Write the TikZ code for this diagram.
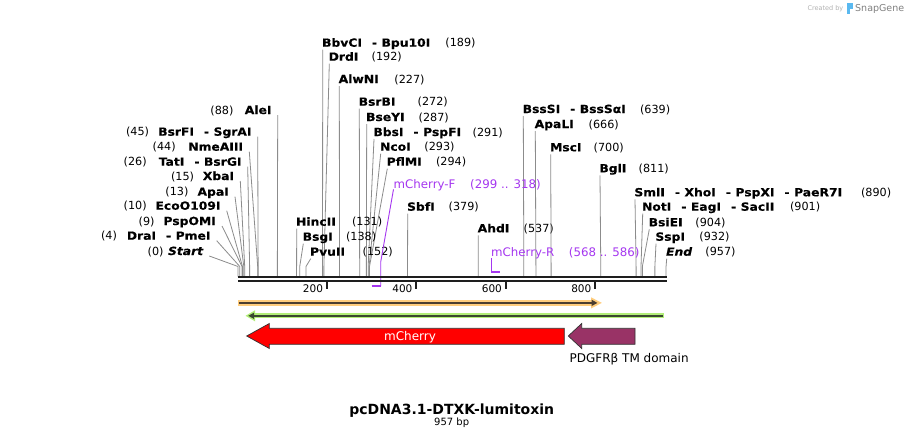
\documentclass[tikz,border=0pt]{standalone}
\usepackage{fontspec}
\setmainfont{DejaVu Sans}
\newfontfamily\enzf[FakeStretch=1.1, BoldFeatures={FakeBold=0.35}, BoldItalicFeatures={FakeBold=0.35}]{DejaVu Sans}
\usetikzlibrary{arrows.meta}
\definecolor{lblgray}{RGB}{140,140,140}
\definecolor{seqblack}{RGB}{30,30,30}
\definecolor{primerpurple}{RGB}{165,55,240}
\definecolor{orangeband}{RGB}{255,205,125}
\definecolor{orangeline}{RGB}{75,62,48}
\definecolor{greenband}{RGB}{178,238,120}
\definecolor{greenline}{RGB}{58,72,48}
\definecolor{cherryred}{RGB}{255,0,0}
\definecolor{pdgfrcol}{RGB}{153,51,102}
\definecolor{featedge}{RGB}{50,50,50}
\definecolor{snapblue}{RGB}{90,185,240}
\newcommand\dsh{\hspace{10pt}-\hspace{4.5pt}}
\tikzset{
  enzname/.style={inner sep=0pt, font=\enzf\fontsize{11.2}{13}\selectfont\bfseries},
  enznum/.style={inner sep=0pt, font=\fontsize{11.2}{13}\selectfont},
  siteline/.style={draw=lblgray, line width=0.8pt},
  primertext/.style={inner sep=0pt, text=primerpurple, font=\fontsize{11.8}{13}\selectfont},
  primerline/.style={draw=primerpurple, line width=0.9pt},
  primerbar/.style={draw=primerpurple, line width=2pt},
  seqline/.style={draw=seqblack, line width=2.3pt},
  tickmark/.style={draw=seqblack, line width=2pt},
  ticklabel/.style={inner sep=0pt, font=\fontsize{10.5}{12}\selectfont},
  featarrow/.style={draw=featedge, line width=0.7pt},
}
\begin{document}
\begin{tikzpicture}[x=1pt,y=-1pt]
\useasboundingbox[fill=white] (0,0) rectangle (905,439);

% left-hand enzyme labels (right aligned)
\foreach \i/\ex/\cy/\nm/\nx/\nu in {
  1/271.7/110/AleI/211/88,
  2/251.7/131.7/BsrFI\dsh SgrAI/126.7/45,
  3/243.3/146.7/NmeAIII/153.3/44,
  4/241.7/161.7/TatI\dsh BsrGI/124.3/26,
  5/234.3/176/XbaI/171.7/15,
  6/229/191.7/ApaI/166/13,
  7/220.7/205.7/EcoO109I/124.3/10,
  8/216/221/PspOMI/139.3/9,
  9/210.7/235.7/DraI\dsh PmeI/101.7/4,
  10/203.3/251/{\itshape Start}/148.3/0}{
  \node[enzname, anchor=base east] (L\i) at (\ex,\cy+4) {\nm};
  \node[enznum, anchor=base west] (LN\i) at (\nx-0.8,\cy+4) {(\nu)};
  \coordinate (LS\i) at ({238+0.4473*\nu},276.5);
  \draw[siteline] ([shift={(6,1)}]L\i.base east) -- ([shift={(0,-10)}]LS\i) -- (LS\i);
}

% upper / right enzyme labels (left aligned)
\foreach \i/\ex/\cy/\nm/\nx/\nu in {
  11/322.7/42.7/BbvCI\dsh Bpu10I/446/189,
  12/329.3/56.7/DrdI/372.3/192,
  13/339.3/79/AlwNI/395/227,
  14/359.3/101.7/BsrBI/418.3/272,
  15/366.7/117/BseYI/419.3/287,
  16/374/132/BbsI\dsh PspFI/473.3/291,
  17/380.7/146.7/NcoI/425/293,
  18/387.3/161.7/PflMI/436.7/294,
  19/407.7/206.7/SbfI/449.3/379,
  20/296.7/221.7/HincII/352.7/131,
  21/303.3/236.7/BsgI/346.7/138,
  22/310.7/251.7/PvuII/363.3/152,
  23/478.3/228.3/AhdI/524.3/537,
  24/523.3/109/BssSI\dsh BssSαI/640.7/639,
  25/535.3/124/ApaLI/589.3/666,
  26/550.7/147.3/MscI/594.3/700,
  27/600/168.3/BglI/639.3/811,
  28/635/192.3/SmlI\dsh XhoI\dsh PspXI\dsh PaeR7I/861.7/890,
  29/642.7/206.7/NotI\dsh EagI\dsh SacII/790.7/901,
  30/649.3/222.3/BsiEI/696/904,
  31/656/236.7/SspI/700/932,
  32/666.7/251.7/{\itshape End}/706/957}{
  \node[enzname, anchor=base west] (T\i) at (\ex-0.8,\cy+4) {\nm};
  \node[enznum, anchor=base west] (TN\i) at (\nx-0.8,\cy+4) {(\nu)};
  \coordinate (TS\i) at ({238+0.4473*\nu},276.5);
  \draw[siteline] ([shift={(0.8,3)}]T\i.base west) -- ([shift={(0,-10)}]TS\i) -- (TS\i);
}

% primers
\node[primertext, anchor=base west] (PF) at (393.5,188.3) {mCherry-F};
\node[primertext, anchor=base west] (PFN) at (470,188.3) {(299 .. 318)};
\coordinate (PFa) at (380.7,286);
\coordinate (PFb) at (371.7,286);
\draw[primerline] ([shift={(0,1)}]PF.base west) -- (380.7,262) -- (PFa);
\draw[primerbar] (PFb) -- (PFa);

\node[primertext, anchor=base west] (PR) at (491,256) {mCherry-R};
\node[primertext, anchor=base west] (PRN) at (568.7,256) {(568 .. 586)};
\coordinate (PRa) at (491.7,272.3);
\coordinate (PRb) at (499.5,272.3);
\draw[primerline] ([shift={(0.7,2)}]PR.base west) -- (PRa);
\draw[primerbar] ([xshift=-0.45pt]PRa) -- (PRb);

% sequence line
\coordinate (S0) at (238,277.2);
\coordinate (S1) at (666.5,277.2);
\coordinate (S2) at (238,281.2);
\coordinate (S3) at (666.5,281.2);
\draw[seqline] (S0) -- (S1);
\draw[seqline] (S2) -- (S3);

% ticks
\foreach \t in {200,400,600,800}{
  \coordinate (tk\t) at ({238+0.4473*\t-0.8},282);
  \draw[tickmark] (tk\t) -- ++(0,7);
  \node[ticklabel, anchor=base east] (tl\t) at ([shift={(-3.5,10.3)}]tk\t) {\t};
}

% orange feature (forward)
\fill[orangeband] (237.5,300) rectangle (594,305.8);
\fill[orangeband] (591,297.3) -- (601.8,302.9) -- (591,308.5) -- cycle;
\draw[orangeline, line width=1.6pt, -{Triangle[length=6pt,width=6pt]}] (238.5,302.9) -- (597.5,302.9);

% green feature (reverse)
\fill[greenband] (252,313.2) rectangle (664,318.4);
\fill[greenband] (255,310.3) -- (245.5,315.8) -- (255,321.3) -- cycle;
\draw[greenline, line width=1.6pt, -{Triangle[length=6pt,width=6pt]}] (663,315.8) -- (248.2,315.8);

% mCherry
\draw[featarrow, fill=cherryred] (246.7,336) -- (269.3,323.5) -- (269.3,328.3) -- (564.3,328.3)
  -- (564.3,344.3) -- (269.3,344.3) -- (269.3,348.5) -- cycle;
\node[inner sep=0pt, text=white, font=\fontsize{12}{14}\selectfont, anchor=base] (mch) at (410,340.3) {mCherry};

% PDGFR beta TM domain
\draw[featarrow, fill=pdgfrcol] (568.3,336) -- (581.7,323.5) -- (581.7,328.3) -- (635,328.3)
  -- (635,344.3) -- (581.7,344.3) -- (581.7,348.5) -- cycle;
\node[inner sep=0pt, font=\fontsize{12}{14}\selectfont, anchor=base west] (pdl) at (569.5,362.6) {PDGFRβ TM domain};

% title
\node[inner sep=0pt, font=\fontsize{14}{16}\selectfont\bfseries, anchor=base] (title) at (451.7,414) {pcDNA3.1-DTXK-lumitoxin};
\node[inner sep=0pt, font=\fontsize{10}{12}\selectfont, anchor=base] (bp) at (451.7,425.4) {957 bp};

% logo
\node[inner sep=0pt, font=\fontsize{6.5}{8}\selectfont, text=black!30, anchor=base east] (cby) at (843.5,10) {Created by};
\fill[snapblue] (846.5,2.5) rectangle (853,9);
\fill[snapblue] (846.5,9) rectangle (849.5,13.5);
\node[inner sep=0pt, font=\fontsize{9.5}{11}\selectfont, text=black!50, anchor=base west] (sg) at (855,11) {SnapGene};
\end{tikzpicture}
\end{document}
